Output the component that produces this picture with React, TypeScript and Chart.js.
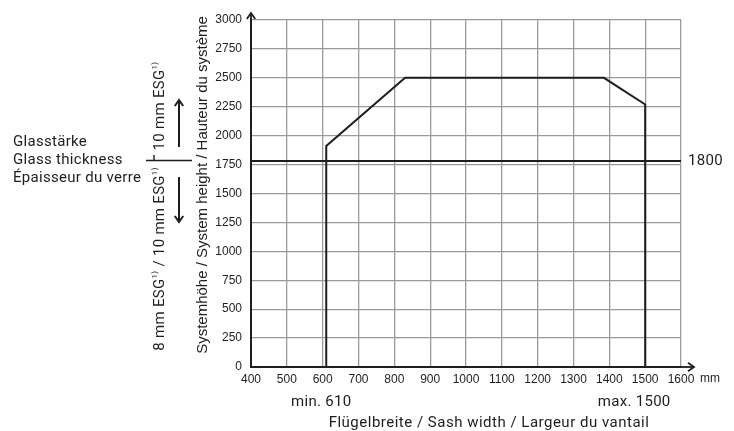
import React, { useEffect, useRef } from "react";
import { Chart, registerables } from "chart.js";

Chart.register(...registerables);

const xMin = 400;
const xMax = 1600;
const xStep = 100;
const yMin = 0;
const yMax = 3000;
const yStep = 250;

const profileX = [610, 610, 830, 1385, 1500, 1500];
const profileY = [0, 1910, 2500, 2500, 2270, 0];

const limitX = [400, 1600];
const limitY = [1780, 1780];
const limitLabel = "1800";

const minWidth = 610;
const maxWidth = 1500;
const minLabel = "min. 610";
const maxLabel = "max. 1500";
const xUnit = "mm";

const xTitle = "Flügelbreite / Sash width / Largeur du vantail";
const yTitle = "Systemhöhe / System height / Hauteur du système";
const glassLines = ["Glasstärke", "Glass thickness", "Épaisseur du verre"];

const DIN = "Roboto, 'Noto Sans', sans-serif";
const ARIAL = "'Liberation Sans', Arial, sans-serif";
const INK = "#1e1e1e";

type Seg = { t: string; size: number; dy: number };

function setSpacing(ctx: any, px: number) {
  if ("letterSpacing" in ctx) ctx.letterSpacing = `${px}px`;
}

function drawRotatedSegs(ctx: CanvasRenderingContext2D, segs: Seg[], cx: number, cy: number) {
  ctx.save();
  ctx.translate(cx, cy);
  ctx.rotate(-Math.PI / 2);
  setSpacing(ctx, 0.3);
  let total = 0;
  const widths = segs.map((s) => {
    ctx.font = `${s.size}px ${DIN}`;
    const w = ctx.measureText(s.t).width;
    total += w;
    return w;
  });
  let x = -total / 2;
  ctx.textAlign = "left";
  ctx.textBaseline = "middle";
  segs.forEach((s, i) => {
    ctx.font = `${s.size}px ${DIN}`;
    ctx.fillText(s.t, x, s.dy);
    x += widths[i];
  });
  ctx.restore();
}

function arrowHead(ctx: CanvasRenderingContext2D, x: number, y: number, dir: "up" | "down" | "right", s: number) {
  ctx.beginPath();
  if (dir === "up") {
    ctx.moveTo(x - s * 0.7, y + s);
    ctx.lineTo(x, y);
    ctx.lineTo(x + s * 0.7, y + s);
  } else if (dir === "down") {
    ctx.moveTo(x - s * 0.7, y - s);
    ctx.lineTo(x, y);
    ctx.lineTo(x + s * 0.7, y - s);
  } else {
    ctx.moveTo(x - s, y - s * 0.7);
    ctx.lineTo(x, y);
    ctx.lineTo(x - s, y + s * 0.7);
  }
  ctx.stroke();
}

const annotations = {
  id: "annotations",
  afterDraw(chart: any) {
    const ctx: CanvasRenderingContext2D = chart.ctx;
    const { left, right, top, bottom } = chart.chartArea;
    const xs = chart.scales.x;
    const ys = chart.scales.y;
    ctx.save();
    ctx.strokeStyle = INK;
    ctx.fillStyle = INK;
    ctx.lineWidth = 1.8;
    ctx.lineCap = "butt";

    // axis extensions with arrows
    ctx.beginPath();
    ctx.moveTo(right, bottom);
    ctx.lineTo(right + 13, bottom);
    ctx.stroke();
    arrowHead(ctx, right + 13, bottom, "right", 6);
    ctx.beginPath();
    ctx.moveTo(left, top);
    ctx.lineTo(left, top - 7);
    ctx.stroke();
    arrowHead(ctx, left, top - 7, "up", 6);

    // unit
    ctx.font = `12px ${ARIAL}`;
    ctx.textAlign = "left";
    ctx.textBaseline = "middle";
    ctx.fillText(xUnit, right + 19, bottom + 12);

    // limit label
    setSpacing(ctx, 0.3);
    ctx.font = `15px ${DIN}`;
    ctx.fillText(limitLabel, right + 7, ys.getPixelForValue(limitY[0]));

    // min / max and x title
    ctx.textAlign = "center";
    ctx.fillText(minLabel, xs.getPixelForValue(minWidth) - 5, bottom + 35);
    ctx.fillText(maxLabel, xs.getPixelForValue(maxWidth) - 11, bottom + 35);
    setSpacing(ctx, 0.5);
    ctx.fillText(xTitle, 489, bottom + 56);

    // y title
    setSpacing(ctx, 0);
    ctx.save();
    ctx.translate(203, 185);
    ctx.rotate(-Math.PI / 2);
    ctx.font = `15px ${ARIAL}`;
    ctx.textAlign = "center";
    ctx.textBaseline = "middle";
    ctx.fillText(yTitle, 0, 0);
    ctx.restore();

    // glass thickness text
    setSpacing(ctx, 0.3);
    ctx.font = `15px ${DIN}`;
    ctx.textAlign = "left";
    ctx.textBaseline = "middle";
    glassLines.forEach((t, i) => ctx.fillText(t, 13, 142 + i * 18));
    setSpacing(ctx, 0);

    // separator
    ctx.lineWidth = 1.4;
    ctx.beginPath();
    ctx.moveTo(146, 160.5);
    ctx.lineTo(192, 160.5);
    ctx.moveTo(154, 155);
    ctx.lineTo(154, 161);
    ctx.stroke();

    // rotated glass texts
    drawRotatedSegs(ctx, [
      { t: "10 mm ESG", size: 15, dy: 0 },
      { t: "1)", size: 8, dy: -5 },
    ], 160, 106);
    drawRotatedSegs(ctx, [
      { t: "8 mm ESG", size: 15, dy: 0 },
      { t: "1)", size: 8, dy: -5 },
      { t: " / 10 mm ESG", size: 15, dy: 0 },
      { t: "1)", size: 8, dy: -5 },
    ], 160, 259);

    // arrows
    ctx.lineWidth = 2;
    ctx.beginPath();
    ctx.moveTo(179, 147);
    ctx.lineTo(179, 100);
    ctx.stroke();
    arrowHead(ctx, 179, 100, "up", 6);
    ctx.beginPath();
    ctx.moveTo(179, 177);
    ctx.lineTo(179, 222);
    ctx.stroke();
    arrowHead(ctx, 179, 222, "down", 6);

    ctx.restore();
  },
};

export default function App() {
  const ref = useRef<HTMLCanvasElement | null>(null);
  useEffect(() => {
    document.body.style.margin = "0";
    const canvas = ref.current;
    if (!canvas) return;
    const chart = new Chart(canvas, {
      type: "scatter",
      data: {
        datasets: [
          {
            data: profileX.map((x, i) => ({ x, y: profileY[i] })),
            showLine: true,
            borderColor: INK,
            borderWidth: 2,
            pointRadius: 0,
            fill: false,
            tension: 0,
          },
          {
            data: limitX.map((x, i) => ({ x, y: limitY[i] })),
            showLine: true,
            borderColor: INK,
            borderWidth: 2,
            pointRadius: 0,
            fill: false,
          },
        ],
      },
      options: {
        animation: false,
        responsive: false,
        maintainAspectRatio: false,
        layout: { padding: { top: 20, right: 53, left: 0, bottom: 0 } },
        plugins: { legend: { display: false }, tooltip: { enabled: false } },
        scales: {
          x: {
            type: "linear",
            min: xMin,
            max: xMax,
            afterFit: (s: any) => {
              s.height = 64;
            },
            ticks: {
              stepSize: xStep,
              padding: 5,
              color: INK,
              font: { family: ARIAL, size: 12 },
              maxRotation: 0,
              callback: (v: any) => String(v),
            },
            grid: { color: "#9a9a9a", lineWidth: 1.3, drawTicks: false },
            border: { color: INK, width: 2 },
          },
          y: {
            type: "linear",
            min: yMin,
            max: yMax,
            afterFit: (s: any) => {
              s.width = 251;
            },
            ticks: {
              stepSize: yStep,
              padding: 9,
              color: INK,
              font: { family: ARIAL, size: 12 },
              callback: (v: any) => String(v),
            },
            grid: { color: "#9a9a9a", lineWidth: 1.3, drawTicks: false },
            border: { color: INK, width: 2 },
          },
        },
      },
      plugins: [annotations],
    });
    return () => chart.destroy();
  }, []);
  return (
    <div style={{ position: "absolute", left: 0, top: 0, width: 734, height: 431, background: "#fff" }}>
      <canvas ref={ref} width={734} height={431} style={{ width: 734, height: 431 }} />
    </div>
  );
}
